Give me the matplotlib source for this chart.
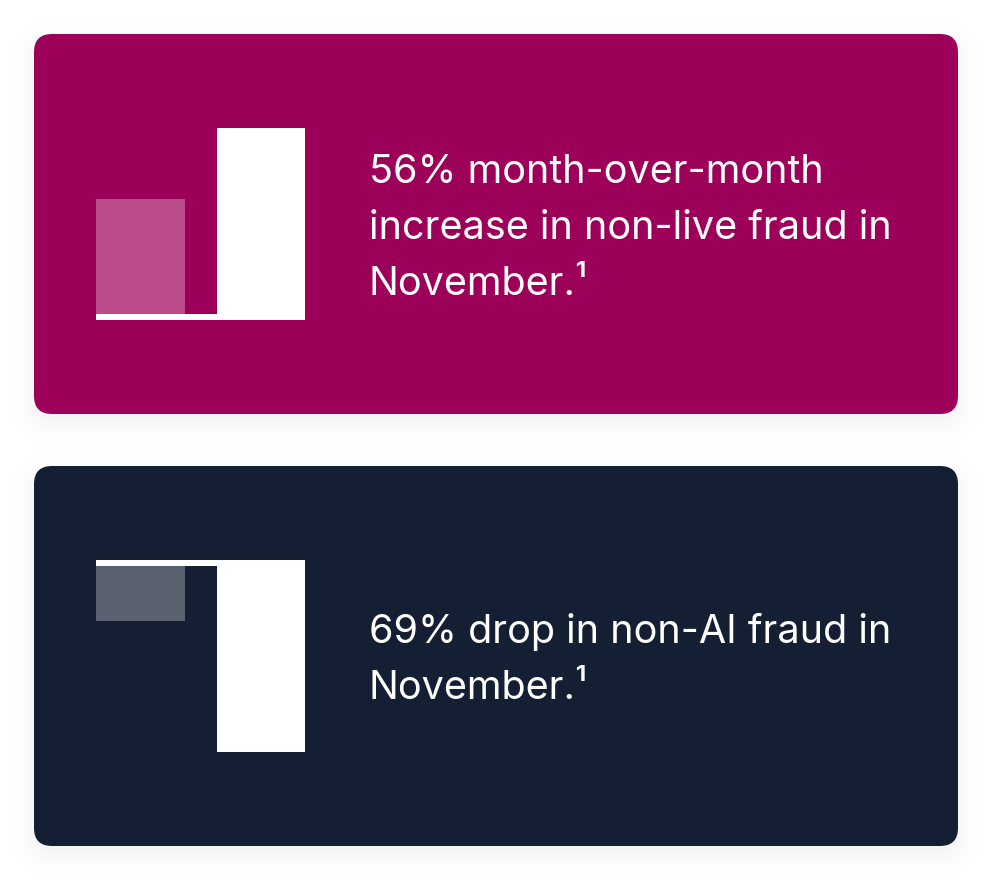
import matplotlib
matplotlib.use("Agg")
import matplotlib.pyplot as plt
import numpy as np
from matplotlib.patches import FancyBboxPatch

W, H = 1008, 896

# bar heights, share of the taller bar
increase_values = [63, 100]
drop_values = [32, 100]
bar_opacity = [0.3, 1.0]

increase_lines = ["56% month-over-month", "increase in non-live fraud in", "November.¹"]
drop_lines = ["69% drop in non-AI fraud in", "November.¹"]

plum = "#9D0058"
navy = "#141F33"

plt.rcParams["font.family"] = ["Inter", "DejaVu Sans"]


def shadow_layer(tops):
    # blurred box shadow under the cards, as a grey level image
    xx, yy = np.meshgrid(np.arange(W) + 0.5, np.arange(H) + 0.5)
    dark = np.zeros((H, W))
    for top in tops:
        cy = top + 190 + 8
        dx = np.abs(xx - 496) - (462 - 18)
        dy = np.abs(yy - cy) - (190 - 18)
        d = np.hypot(np.maximum(dx, 0), np.maximum(dy, 0)) + np.minimum(np.maximum(dx, dy), 0) - 18
        dark = np.maximum(dark, 0.06 / (1 + np.exp(d / 9.0)))
    return 1 - dark


def card_face(bg, top, color):
    bg.add_patch(FancyBboxPatch((52, top + 18), 888, 344,
                                boxstyle="round,pad=18,rounding_size=18",
                                fc=color, ec="none", zorder=2))


def bar_axes(fig, top, values, color, flip):
    # 209 x 192 px box holding the two bars and the base line
    ax = fig.add_axes([96 / W, 1 - (top + 192) / H, 209 / W, 192 / H], zorder=3)
    ax.patch.set_alpha(0)
    ax.set_xlim(0, 209)
    ax.set_ylim(0, 100)
    if flip:
        ax.invert_yaxis()
    ax.bar([0, 120.5], values, width=88.7, align="edge", color="white", linewidth=0)
    ax.patches[0].set_alpha(bar_opacity[0])
    ax.patches[1].set_alpha(bar_opacity[1])
    ax.bar([0], [3.1], width=209, align="edge", color="white", linewidth=0)
    ax.axis("off")
    return ax


def write_lines(bg, lines, first_base):
    for i, line in enumerate(lines):
        bg.text(369, first_base + i * 56, line, color="white", fontsize=28.5,
                va="baseline", ha="left", zorder=4)


def main():
    fig = plt.figure(figsize=(W / 100, H / 100), dpi=100, facecolor="white")
    bg = fig.add_axes([0, 0, 1, 1])
    bg.imshow(shadow_layer([34, 466]), cmap="gray", vmin=0, vmax=1,
              extent=(0, W, H, 0), interpolation="nearest", zorder=1)
    bg.set_xlim(0, W)
    bg.set_ylim(H, 0)
    bg.set_aspect("auto")
    bg.axis("off")

    card_face(bg, 34, plum)
    card_face(bg, 466, navy)

    bar_axes(fig, 128, increase_values, plum, False)
    bar_axes(fig, 560, drop_values, navy, True)

    write_lines(bg, increase_lines, 183)
    write_lines(bg, drop_lines, 643)

    fig.savefig("out.png", dpi=100, facecolor="white")


if __name__ == "__main__":
    main()
